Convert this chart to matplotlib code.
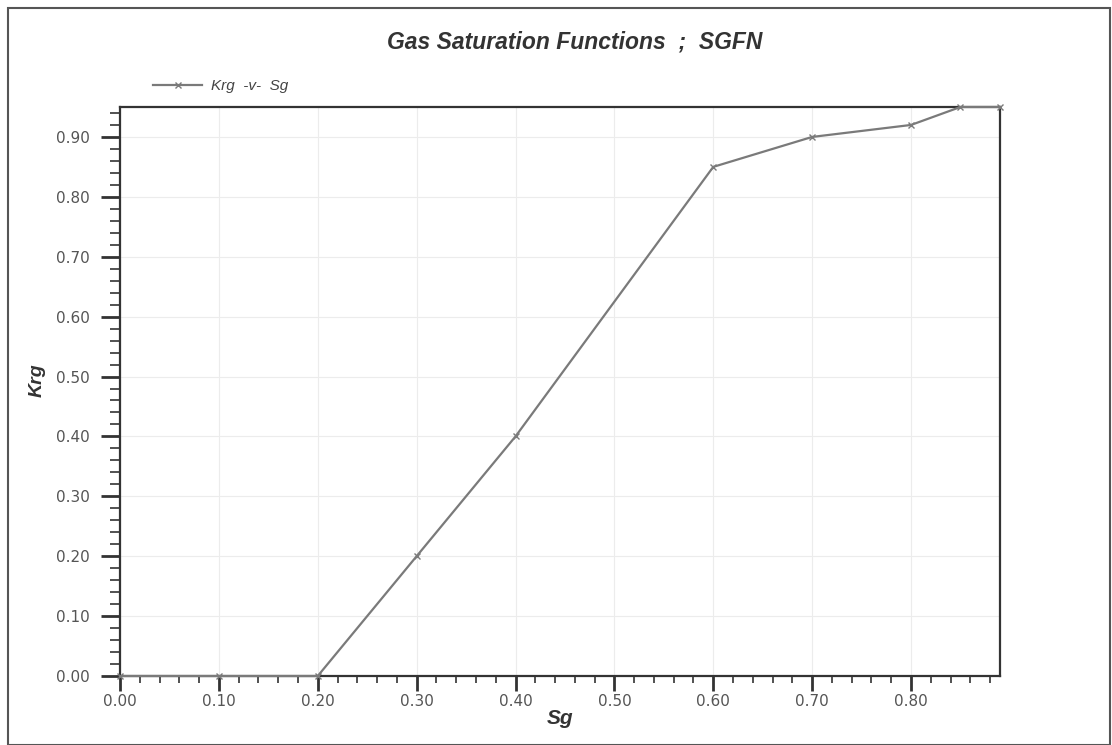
import numpy as np
import matplotlib
matplotlib.use('Agg')
import matplotlib.pyplot as plt
from matplotlib.ticker import MultipleLocator, FormatStrFormatter
from matplotlib.patches import Rectangle

sg = [0.0, 0.1, 0.2, 0.3, 0.4, 0.6, 0.7, 0.8, 0.85, 0.89]
krg = [0.0, 0.0, 0.0, 0.2, 0.4, 0.85, 0.9, 0.92, 0.95, 0.95]

fig = plt.figure(figsize=(11.12, 7.45), dpi=100)
ax = fig.add_axes([0.1079, 0.0926, 0.7914, 0.7638])

ax.plot(sg, krg, color='#7a7a7a', lw=1.6, marker='x', ms=5, mew=1.0,
        label='Krg  -v-  Sg', clip_on=False, zorder=3)

ax.set_xlim(0, 0.89)
ax.set_ylim(0, 0.95)
ax.xaxis.set_major_locator(MultipleLocator(0.1))
ax.xaxis.set_minor_locator(MultipleLocator(0.02))
ax.yaxis.set_major_locator(MultipleLocator(0.1))
ax.yaxis.set_minor_locator(MultipleLocator(0.02))
ax.xaxis.set_major_formatter(FormatStrFormatter('%.2f'))
ax.yaxis.set_major_formatter(FormatStrFormatter('%.2f'))

ax.tick_params(which='both', direction='out', color='#333333',
               labelsize=11, labelcolor='#555555')
ax.tick_params(axis='y', which='major', length=14, width=2, pad=8)
ax.tick_params(axis='y', which='minor', length=7, width=1.2)
ax.tick_params(axis='x', which='major', length=11, width=2, pad=2)
ax.tick_params(axis='x', which='minor', length=5, width=1.2)

for s in ax.spines.values():
    s.set_color('#333333')
    s.set_linewidth(1.6)

ax.grid(True, which='major', color='#ececec', lw=0.8)
ax.set_axisbelow(True)

ax.set_xlabel('Sg', fontsize=15, fontweight='bold', style='italic', color='#333333',
              labelpad=0, family='Liberation Sans')
ax.set_ylabel('Krg', fontsize=14, fontweight='bold', style='italic', color='#333333',
              labelpad=3, family='Liberation Sans')
ax.yaxis.set_label_coords(-0.084, 0.52)

fig.text(0.517, 0.943, 'Gas Saturation Functions  ;  SGFN', ha='center', va='center',
         fontsize=16.5, fontweight='bold', style='italic', color='#333333',
         family='Liberation Sans')

ax.legend(loc='lower left', bbox_to_anchor=(0.022, 1.0), frameon=False,
          handlelength=3.2, handletextpad=0.6,
          prop={'style': 'italic', 'size': 11, 'family': 'Liberation Sans'},
          labelcolor='#444444')

fig.patches.append(Rectangle((0.0072, 0.0), 0.9910, 0.9893, transform=fig.transFigure,
                             fill=False, ec='#555555', lw=1.5))

fig.savefig('out.png', dpi=100)
